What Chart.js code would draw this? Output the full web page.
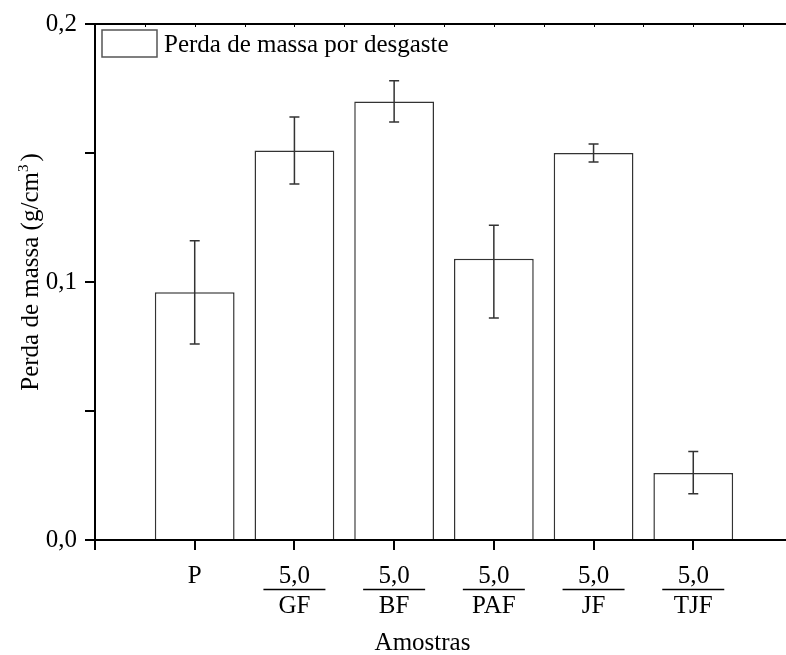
<!DOCTYPE html>
<html>
<head>
<meta charset="utf-8">
<script src="https://cdn.jsdelivr.net/npm/chart.js@4.4.1/dist/chart.umd.min.js"></script>
<style>
  html, body { margin: 0; padding: 0; background: #fff; }
</style>
</head>
<body>
<canvas id="myChart" width="786" height="655"></canvas>
<script>
// dados
const categories = ["P", "GF", "BF", "PAF", "JF", "TJF"];
const numerators = ["", "5,0", "5,0", "5,0", "5,0", "5,0"];
const positions = [1, 2, 3, 4, 5, 6];
const massLoss = [0.096, 0.151, 0.170, 0.109, 0.150, 0.026];
const errHigh = [0.020, 0.013, 0.008, 0.013, 0.0035, 0.0083];
const errLow = [0.020, 0.013, 0.008, 0.023, 0.0035, 0.0081];
const xTicks = [0, 1, 2, 3, 4, 5, 6];
const yTicks = [0, 0.05, 0.1, 0.15, 0.2];
const yTickLabels = ["0,0", "", "0,1", "", "0,2"];

const FONT = "Liberation Serif";
const FS = 25;

const decorations = {
  id: "decorations",
  afterDatasetsDraw(chart) {
    const { ctx, scales } = chart;
    const x = scales.x;
    const y = scales.y;
    ctx.save();
    ctx.strokeStyle = "#333";
    ctx.lineWidth = 1.5;
    positions.forEach((p, i) => {
      const px = x.getPixelForValue(p);
      const top = y.getPixelForValue(massLoss[i] + errHigh[i]);
      const bot = y.getPixelForValue(massLoss[i] - errLow[i]);
      ctx.beginPath();
      ctx.moveTo(px, top);
      ctx.lineTo(px, bot);
      ctx.moveTo(px - 5, top);
      ctx.lineTo(px + 5, top);
      ctx.moveTo(px - 5, bot);
      ctx.lineTo(px + 5, bot);
      ctx.stroke();
    });
    ctx.restore();
  },
  afterDraw(chart) {
    const { ctx, chartArea, scales } = chart;
    const x = scales.x;
    ctx.save();

    // eixo superior com marcas pequenas
    ctx.strokeStyle = "#000";
    ctx.lineWidth = 2;
    ctx.beginPath();
    ctx.moveTo(chartArea.left - 1, chartArea.top);
    ctx.lineTo(chartArea.right, chartArea.top);
    ctx.stroke();
    ctx.lineWidth = 1;
    for (let v = 0.5; v < x.max; v += 0.5) {
      const px = Math.round(x.getPixelForValue(v)) + 0.5;
      ctx.beginPath();
      ctx.moveTo(px, chartArea.top);
      ctx.lineTo(px, chartArea.top + 3);
      ctx.stroke();
    }

    // rótulos do eixo x (frações)
    ctx.fillStyle = "#000";
    ctx.font = FS + "px '" + FONT + "'";
    ctx.textAlign = "center";
    ctx.textBaseline = "alphabetic";
    positions.forEach((p, i) => {
      const px = x.getPixelForValue(p);
      if (numerators[i] === "") {
        ctx.fillText(categories[i], px, 583);
      } else {
        ctx.fillText(numerators[i], px, 583);
        ctx.lineWidth = 1.5;
        ctx.beginPath();
        ctx.moveTo(px - 31, 589.5);
        ctx.lineTo(px + 31, 589.5);
        ctx.stroke();
        ctx.fillText(categories[i], px, 613);
      }
    });

    // título do eixo x
    ctx.fillText("Amostras", (chartArea.left + 786) / 2 - 18, 650);

    // título do eixo y com expoente
    const main = "Perda de massa (g/cm";
    ctx.font = FS + "px '" + FONT + "'";
    const wMain = ctx.measureText(main).width;
    ctx.font = "15px '" + FONT + "'";
    const wSup = ctx.measureText("3").width;
    ctx.font = FS + "px '" + FONT + "'";
    const wEnd = ctx.measureText(")").width;
    const total = wMain + wSup + 3 + wEnd;
    ctx.translate(38, 272);
    ctx.rotate(-Math.PI / 2);
    ctx.textAlign = "left";
    let cx = -total / 2;
    ctx.fillText(main, cx, 0);
    cx += wMain;
    ctx.font = "15px '" + FONT + "'";
    ctx.fillText("3", cx, -10);
    cx += wSup + 3;
    ctx.font = FS + "px '" + FONT + "'";
    ctx.fillText(")", cx, 0);
    ctx.setTransform(1, 0, 0, 1, 0, 0);

    // legenda
    ctx.strokeStyle = "#555";
    ctx.lineWidth = 1.5;
    ctx.strokeRect(102, 30, 55, 27);
    ctx.textAlign = "left";
    ctx.textBaseline = "middle";
    ctx.fillText(chart.data.datasets[0].label, 164, 45);

    ctx.restore();
  },
};

const ctx = document.getElementById("myChart").getContext("2d");

new Chart(ctx, {
  type: "bar",
  data: {
    datasets: [
      {
        label: "Perda de massa por desgaste",
        data: positions.map((p, i) => ({ x: p, y: massLoss[i] })),
        backgroundColor: "#fff",
        borderColor: "#333",
        borderWidth: 1.5,
        barPercentage: 1,
        categoryPercentage: 0.8,
      },
    ],
  },
  options: {
    responsive: false,
    animation: false,
    devicePixelRatio: 1,
    layout: {
      padding: { top: 24, right: 0, left: 0, bottom: 0 },
    },
    plugins: {
      legend: { display: false },
      tooltip: { enabled: false },
    },
    scales: {
      x: {
        type: "linear",
        position: "bottom",
        min: 0,
        max: 6.93,
        offset: false,
        z: 1,
        afterBuildTicks: (scale) => {
          scale.ticks = xTicks.map((v) => ({ value: v }));
        },
        afterFit: (scale) => {
          scale.height = 115;
        },
        ticks: { display: false },
        grid: {
          offset: false,
          drawOnChartArea: false,
          drawTicks: true,
          tickLength: 10,
          color: "#000",
          lineWidth: 2,
        },
        border: { display: true, color: "#000", width: 2 },
      },
      y: {
        min: 0,
        max: 0.2,
        afterBuildTicks: (scale) => {
          scale.ticks = yTicks.map((v) => ({ value: v }));
        },
        afterFit: (scale) => {
          scale.width = 95;
        },
        ticks: {
          padding: 8,
          color: "#000",
          font: { family: FONT, size: FS },
          callback: (v, i) => yTickLabels[i],
        },
        grid: {
          drawOnChartArea: false,
          drawTicks: true,
          tickLength: 10,
          color: "#000",
          lineWidth: 2,
        },
        border: { display: true, color: "#000", width: 2 },
      },
    },
  },
  plugins: [decorations],
});
</script>
</body>
</html>
